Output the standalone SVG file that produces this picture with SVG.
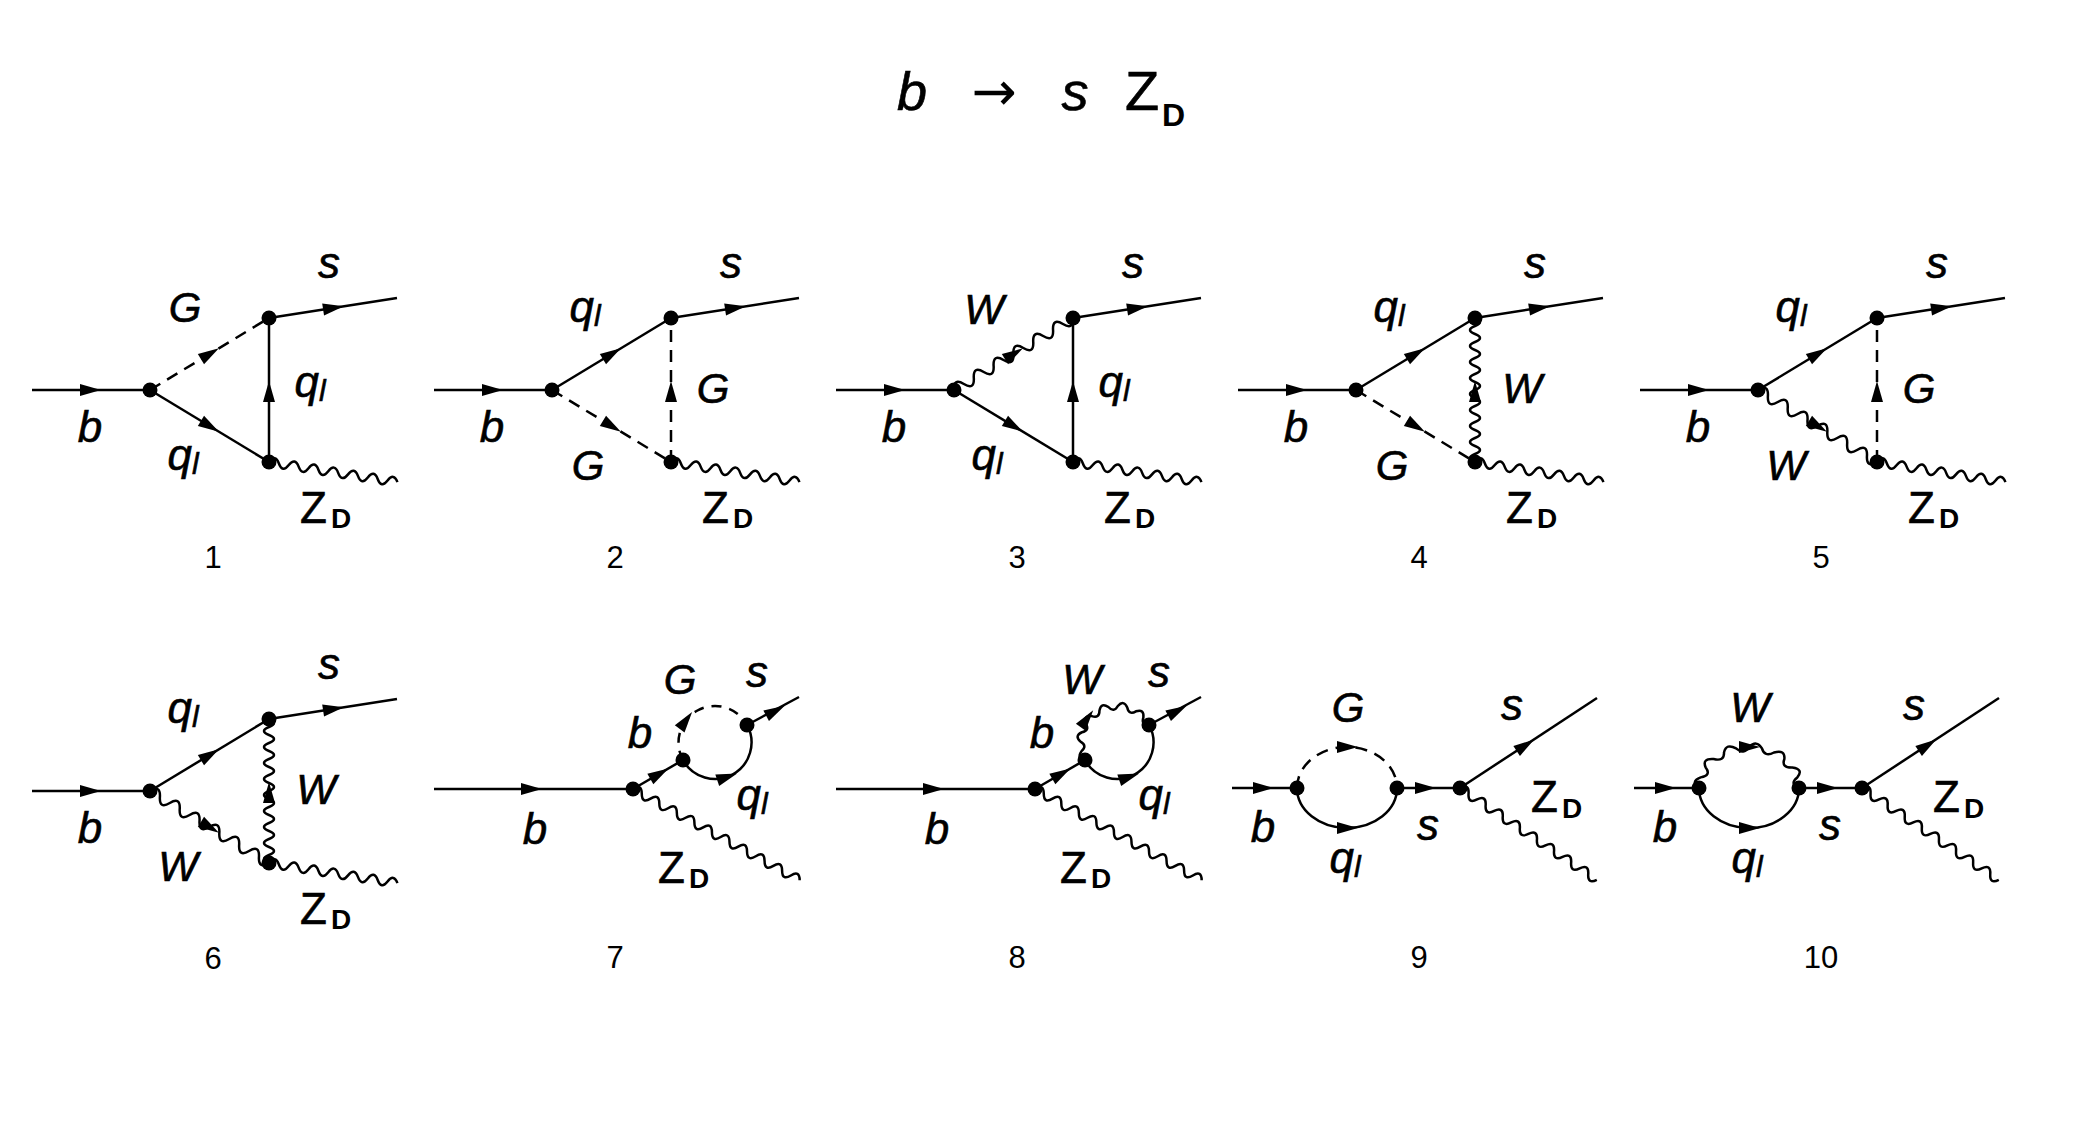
<svg xmlns="http://www.w3.org/2000/svg" xmlns:xlink="http://www.w3.org/1999/xlink" width="2080" height="1122" viewBox="0 0 2080 1122">
<style>
.l{stroke:#000;stroke-width:2.5;fill:none}
.d{stroke-dasharray:12 8}
.v{fill:#000}
.t{font-family:"Liberation Sans",Arial,sans-serif;font-style:italic;font-size:44px;text-anchor:middle;fill:#000;stroke:#000;stroke-width:0.6}
.g{font-size:42px}
.sub{font-size:30px}
.z{font-family:"Liberation Sans",Arial,sans-serif;font-size:44px;fill:#000;stroke:#000;stroke-width:0.6}
.zd{font-family:"Liberation Sans",Arial,sans-serif;font-size:28px;font-weight:bold;fill:#000}
.n{font-family:"Liberation Sans",Arial,sans-serif;font-size:31px;text-anchor:middle;fill:#000}
</style>
<defs>
<path id="ah" d="M11,0 L-10,-6 L-10,6 Z" fill="#000"/>
<path id="wz" class="l" d="M0,0 q5,-9 10,0 t10,0 t10,0 t10,0 t10,0 t10,0 t10,0 t10,0 t10,0 t10,0 t10,0 t10,0 t10,0"/>
<path id="wv" class="l" d="M0,0 q4,-10 8,0 t8,0 t8,0 t8,0 t8,0 t8,0 t8,0 t8,0 t8,0 t8,0 t8,0 t8,0 t8,0 t8,0 t8,0 t8,0 t8,0 t8,0"/>
<path id="wd" class="l" d="M0,0 q5.79,-11 11.58,0 t11.58,0 t11.58,0 t11.58,0 t11.58,0 t11.58,0 t11.58,0 t11.58,0 t11.58,0 t11.58,0 t11.58,0 t11.58,0"/>
<path id="wz2" class="l" d="M0,0 q5,-9 10,0 t10,0 t10,0 t10,0 t10,0 t10,0 t10,0 t10,0 t10,0 t10,0 t10,0 t10,0 t10,0 t10,0 t10,0 t10,0 t10,0 t10,0 t10,0"/>
<path id="wz3" class="l" d="M0,0 q5.15,-9 10.3,0 t10.3,0 t10.3,0 t10.3,0 t10.3,0 t10.3,0 t10.3,0 t10.3,0 t10.3,0 t10.3,0 t10.3,0 t10.3,0 t10.3,0 t10.3,0 t10.3,0 t10.3,0"/>
<path id="ws" class="l" vector-effect="non-scaling-stroke" d="M-36.5,0 Q-43.13,-5.68 -35.26,-9.45 Q-27.26,-11.29 -31.61,-18.25 Q-34.51,-26.48 -25.81,-25.81 Q-17.96,-23.41 -18.25,-31.61 Q-16.65,-40.19 -9.45,-35.26 Q-3.85,-29.25 0,-36.5 Q5.68,-43.13 9.45,-35.26 Q11.29,-27.26 18.25,-31.61 Q26.48,-34.51 25.81,-25.81 Q23.41,-17.96 31.61,-18.25 Q40.19,-16.65 35.26,-9.45 Q29.25,-3.85 36.5,0"/>
</defs>
<rect width="2080" height="1122" fill="#fff"/>
<g id="title">
<text class="t" x="912" y="110" style="font-size:54px">b</text>
<text x="994" y="110" style="font-family:'DejaVu Sans',sans-serif;font-size:54px;text-anchor:middle;fill:#000">→</text>
<text class="t" x="1075" y="110" style="font-size:54px">s</text>
<text class="z" x="1125" y="110" style="font-size:56px">Z</text>
<text class="zd" x="1162" y="126" style="font-size:32px">D</text>
</g>

<!-- Diagram 1 -->
<g id="d1">
<g id="d1-conn">
<line class="l" x1="32" y1="390" x2="150" y2="390"/><use href="#ah" transform="translate(90,390)"/>
<line class="l d" x1="150" y1="390" x2="269" y2="318"/><use href="#ah" transform="translate(209.5,354) rotate(-31.2)"/>
<line class="l" x1="150" y1="390" x2="269" y2="462"/><use href="#ah" transform="translate(209.5,426) rotate(31.2)"/>
<line class="l" x1="269" y1="462" x2="269" y2="318"/><use href="#ah" transform="translate(269,392) rotate(-90)"/>
<line class="l" x1="269" y1="318" x2="397" y2="298"/><use href="#ah" transform="translate(333,308) rotate(-8.9)"/>
<use href="#wz" transform="translate(269,462) rotate(8.9)"/>
</g>
<circle class="v" cx="150" cy="390" r="7.5"/><circle class="v" cx="269" cy="318" r="7.5"/><circle class="v" cx="269" cy="462" r="7.5"/>
<text class="t g" x="185" y="322">G</text>
<text class="t" x="90" y="442">b</text>
<text class="t" x="183" y="470">q<tspan class="sub" dy="4">l</tspan></text>
<text class="t" x="329" y="278">s</text>
<text class="t" x="310" y="397">q<tspan class="sub" dy="4">l</tspan></text>
<text class="z" x="300" y="523">Z</text><text class="zd" x="331" y="528">D</text>
<text class="n" x="213" y="568">1</text>
</g>

<!-- Diagram 2 -->
<g id="d2" transform="translate(402,0)">
<g id="d2-conn">
<line class="l" x1="32" y1="390" x2="150" y2="390"/><use href="#ah" transform="translate(90,390)"/>
<line class="l" x1="150" y1="390" x2="269" y2="318"/><use href="#ah" transform="translate(209.5,354) rotate(-31.2)"/>
<line class="l d" x1="150" y1="390" x2="269" y2="462"/><use href="#ah" transform="translate(209.5,426) rotate(31.2)"/>
<line class="l d" x1="269" y1="462" x2="269" y2="318"/><use href="#ah" transform="translate(269,392) rotate(-90)"/>
<line class="l" x1="269" y1="318" x2="397" y2="298"/><use href="#ah" transform="translate(333,308) rotate(-8.9)"/>
<use href="#wz" transform="translate(269,462) rotate(8.9)"/>
</g>
<circle class="v" cx="150" cy="390" r="7.5"/><circle class="v" cx="269" cy="318" r="7.5"/><circle class="v" cx="269" cy="462" r="7.5"/>
<text class="t" x="183" y="322">q<tspan class="sub" dy="4">l</tspan></text>
<text class="t" x="90" y="442">b</text>
<text class="t g" x="186" y="480">G</text>
<text class="t" x="329" y="278">s</text>
<text class="t g" x="311" y="403">G</text>
<text class="z" x="300" y="523">Z</text><text class="zd" x="331" y="528">D</text>
<text class="n" x="213" y="568">2</text>
</g>

<!-- Diagram 3 -->
<g id="d3" transform="translate(804,0)">
<g id="d3-conn">
<line class="l" x1="32" y1="390" x2="150" y2="390"/><use href="#ah" transform="translate(90,390)"/>
<use href="#wd" transform="translate(150,390) rotate(-31.2)"/><use href="#ah" transform="translate(209.5,354) rotate(-31.2)"/>
<line class="l" x1="150" y1="390" x2="269" y2="462"/><use href="#ah" transform="translate(209.5,426) rotate(31.2)"/>
<line class="l" x1="269" y1="462" x2="269" y2="318"/><use href="#ah" transform="translate(269,392) rotate(-90)"/>
<line class="l" x1="269" y1="318" x2="397" y2="298"/><use href="#ah" transform="translate(333,308) rotate(-8.9)"/>
<use href="#wz" transform="translate(269,462) rotate(8.9)"/>
</g>
<circle class="v" cx="150" cy="390" r="7.5"/><circle class="v" cx="269" cy="318" r="7.5"/><circle class="v" cx="269" cy="462" r="7.5"/>
<text class="t g" x="180" y="324">W</text>
<text class="t" x="90" y="442">b</text>
<text class="t" x="183" y="470">q<tspan class="sub" dy="4">l</tspan></text>
<text class="t" x="329" y="278">s</text>
<text class="t" x="310" y="397">q<tspan class="sub" dy="4">l</tspan></text>
<text class="z" x="300" y="523">Z</text><text class="zd" x="331" y="528">D</text>
<text class="n" x="213" y="568">3</text>
</g>

<!-- Diagram 4 -->
<g id="d4" transform="translate(1206,0)">
<g id="d4-conn">
<line class="l" x1="32" y1="390" x2="150" y2="390"/><use href="#ah" transform="translate(90,390)"/>
<line class="l" x1="150" y1="390" x2="269" y2="318"/><use href="#ah" transform="translate(209.5,354) rotate(-31.2)"/>
<line class="l d" x1="150" y1="390" x2="269" y2="462"/><use href="#ah" transform="translate(209.5,426) rotate(31.2)"/>
<use href="#wv" transform="translate(269,462) rotate(-90)"/><use href="#ah" transform="translate(269,392) rotate(-90)"/>
<line class="l" x1="269" y1="318" x2="397" y2="298"/><use href="#ah" transform="translate(333,308) rotate(-8.9)"/>
<use href="#wz" transform="translate(269,462) rotate(8.9)"/>
</g>
<circle class="v" cx="150" cy="390" r="7.5"/><circle class="v" cx="269" cy="318" r="7.5"/><circle class="v" cx="269" cy="462" r="7.5"/>
<text class="t" x="183" y="322">q<tspan class="sub" dy="4">l</tspan></text>
<text class="t" x="90" y="442">b</text>
<text class="t g" x="186" y="480">G</text>
<text class="t" x="329" y="278">s</text>
<text class="t g" x="316" y="403">W</text>
<text class="z" x="300" y="523">Z</text><text class="zd" x="331" y="528">D</text>
<text class="n" x="213" y="568">4</text>
</g>

<!-- Diagram 5 -->
<g id="d5" transform="translate(1608,0)">
<g id="d5-conn">
<line class="l" x1="32" y1="390" x2="150" y2="390"/><use href="#ah" transform="translate(90,390)"/>
<line class="l" x1="150" y1="390" x2="269" y2="318"/><use href="#ah" transform="translate(209.5,354) rotate(-31.2)"/>
<use href="#wd" transform="translate(150,390) rotate(31.2)"/><use href="#ah" transform="translate(209.5,426) rotate(31.2)"/>
<line class="l d" x1="269" y1="462" x2="269" y2="318"/><use href="#ah" transform="translate(269,392) rotate(-90)"/>
<line class="l" x1="269" y1="318" x2="397" y2="298"/><use href="#ah" transform="translate(333,308) rotate(-8.9)"/>
<use href="#wz" transform="translate(269,462) rotate(8.9)"/>
</g>
<circle class="v" cx="150" cy="390" r="7.5"/><circle class="v" cx="269" cy="318" r="7.5"/><circle class="v" cx="269" cy="462" r="7.5"/>
<text class="t" x="183" y="322">q<tspan class="sub" dy="4">l</tspan></text>
<text class="t" x="90" y="442">b</text>
<text class="t g" x="178" y="480">W</text>
<text class="t" x="329" y="278">s</text>
<text class="t g" x="311" y="403">G</text>
<text class="z" x="300" y="523">Z</text><text class="zd" x="331" y="528">D</text>
<text class="n" x="213" y="568">5</text>
</g>

<!-- Diagram 6 -->
<g id="d6" transform="translate(0,401)">
<g id="d6-conn">
<line class="l" x1="32" y1="390" x2="150" y2="390"/><use href="#ah" transform="translate(90,390)"/>
<line class="l" x1="150" y1="390" x2="269" y2="318"/><use href="#ah" transform="translate(209.5,354) rotate(-31.2)"/>
<use href="#wd" transform="translate(150,390) rotate(31.2)"/><use href="#ah" transform="translate(209.5,426) rotate(31.2)"/>
<use href="#wv" transform="translate(269,462) rotate(-90)"/><use href="#ah" transform="translate(269,392) rotate(-90)"/>
<line class="l" x1="269" y1="318" x2="397" y2="298"/><use href="#ah" transform="translate(333,308) rotate(-8.9)"/>
<use href="#wz" transform="translate(269,462) rotate(8.9)"/>
</g>
<circle class="v" cx="150" cy="390" r="7.5"/><circle class="v" cx="269" cy="318" r="7.5"/><circle class="v" cx="269" cy="462" r="7.5"/>
<text class="t" x="183" y="322">q<tspan class="sub" dy="4">l</tspan></text>
<text class="t" x="90" y="442">b</text>
<text class="t g" x="178" y="480">W</text>
<text class="t" x="329" y="278">s</text>
<text class="t g" x="316" y="403">W</text>
<text class="z" x="300" y="523">Z</text><text class="zd" x="331" y="528">D</text>
<text class="n" x="213" y="568">6</text>
</g>

<!-- Diagram 7 -->
<g id="d7" transform="translate(402,400)">
<g id="d7-conn">
<line class="l" x1="32" y1="389" x2="231" y2="389"/><use href="#ah" transform="translate(129,389)"/>
<line class="l" x1="231" y1="389" x2="281" y2="360"/><use href="#ah" transform="translate(257,374) rotate(-30.1)"/>
<line class="l" x1="345" y1="325" x2="397" y2="297"/><use href="#ah" transform="translate(373,311) rotate(-27.9)"/>
<g transform="translate(313,342.5) rotate(-28.7)">
<path class="l d" d="M-36.5,0 A36.5,36.5 0 0 1 36.5,0" style="stroke-dasharray:10 8"/>
<path class="l" d="M-36.5,0 A36.5,36.5 0 0 0 36.5,0"/>
<use href="#ah" transform="translate(-15.4,-33.1) rotate(-25)"/>
<use href="#ah" transform="translate(-6.3,35.9) rotate(10)"/>
</g>
<use href="#wz2" transform="translate(231,389) rotate(28.7)"/>
</g>
<circle class="v" cx="231" cy="389" r="7.5"/><circle class="v" cx="281" cy="360" r="7.5"/><circle class="v" cx="345" cy="325" r="7.5"/>
<text class="t g" x="278" y="294">G</text>
<text class="t" x="355" y="287">s</text>
<text class="t" x="238" y="348">b</text>
<text class="t" x="133" y="444">b</text>
<text class="t" x="350" y="410">q<tspan class="sub" dy="4">l</tspan></text>
<text class="z" x="256" y="483">Z</text><text class="zd" x="287" y="488">D</text>
<text class="n" x="213" y="568">7</text>
</g>

<!-- Diagram 8 -->
<g id="d8" transform="translate(804,400)">
<g id="d8-conn">
<line class="l" x1="32" y1="389" x2="231" y2="389"/><use href="#ah" transform="translate(129,389)"/>
<line class="l" x1="231" y1="389" x2="281" y2="360"/><use href="#ah" transform="translate(257,374) rotate(-30.1)"/>
<line class="l" x1="345" y1="325" x2="397" y2="297"/><use href="#ah" transform="translate(373,311) rotate(-27.9)"/>
<g transform="translate(313,342.5) rotate(-28.7)">
<use href="#ws"/>
<path class="l" d="M-36.5,0 A36.5,36.5 0 0 0 36.5,0"/>
<use href="#ah" transform="translate(-15.4,-35) rotate(-25)"/>
<use href="#ah" transform="translate(-6.3,35.9) rotate(10)"/>
</g>
<use href="#wz2" transform="translate(231,389) rotate(28.7)"/>
</g>
<circle class="v" cx="231" cy="389" r="7.5"/><circle class="v" cx="281" cy="360" r="7.5"/><circle class="v" cx="345" cy="325" r="7.5"/>
<text class="t g" x="278" y="294">W</text>
<text class="t" x="355" y="287">s</text>
<text class="t" x="238" y="348">b</text>
<text class="t" x="133" y="444">b</text>
<text class="t" x="350" y="410">q<tspan class="sub" dy="4">l</tspan></text>
<text class="z" x="256" y="483">Z</text><text class="zd" x="287" y="488">D</text>
<text class="n" x="213" y="568">8</text>
</g>

<!-- Diagram 9 -->
<g id="d9" transform="translate(1206,400)">
<g id="d9-conn">
<line class="l" x1="26" y1="388" x2="91" y2="388"/><use href="#ah" transform="translate(57,388)"/>
<line class="l" x1="191" y1="388" x2="254" y2="388"/><use href="#ah" transform="translate(219,388)"/>
<path class="l d" d="M91,388 A50,41 0 0 1 191,388"/><use href="#ah" transform="translate(141,347)"/>
<path class="l" d="M91,388 A50,40 0 0 0 191,388"/><use href="#ah" transform="translate(141,428)"/>
<line class="l" x1="254" y1="388" x2="391" y2="298"/><use href="#ah" transform="translate(319,345.5) rotate(-33.3)"/>
<use href="#wz3" transform="translate(254,388) rotate(33.9)"/>
</g>
<circle class="v" cx="91" cy="388" r="7.5"/><circle class="v" cx="191" cy="388" r="7.5"/><circle class="v" cx="254" cy="388" r="7.5"/>
<text class="t g" x="142" y="322">G</text>
<text class="t" x="306" y="320">s</text>
<text class="t" x="57" y="442">b</text>
<text class="t" x="139" y="473">q<tspan class="sub" dy="4">l</tspan></text>
<text class="t" x="222" y="440">s</text>
<text class="z" x="325" y="412">Z</text><text class="zd" x="356" y="418">D</text>
<text class="n" x="213" y="568">9</text>
</g>

<!-- Diagram 10 -->
<g id="d10" transform="translate(1608,400)">
<g id="d10-conn">
<line class="l" x1="26" y1="388" x2="91" y2="388"/><use href="#ah" transform="translate(57,388)"/>
<line class="l" x1="191" y1="388" x2="254" y2="388"/><use href="#ah" transform="translate(219,388)"/>
<use href="#ws" transform="translate(141,388) scale(1.37,1.123)"/><use href="#ah" transform="translate(141,347)"/>
<path class="l" d="M91,388 A50,40 0 0 0 191,388"/><use href="#ah" transform="translate(141,428)"/>
<line class="l" x1="254" y1="388" x2="391" y2="298"/><use href="#ah" transform="translate(319,345.5) rotate(-33.3)"/>
<use href="#wz3" transform="translate(254,388) rotate(33.9)"/>
</g>
<circle class="v" cx="91" cy="388" r="7.5"/><circle class="v" cx="191" cy="388" r="7.5"/><circle class="v" cx="254" cy="388" r="7.5"/>
<text class="t g" x="142" y="322">W</text>
<text class="t" x="306" y="320">s</text>
<text class="t" x="57" y="442">b</text>
<text class="t" x="139" y="473">q<tspan class="sub" dy="4">l</tspan></text>
<text class="t" x="222" y="440">s</text>
<text class="z" x="325" y="412">Z</text><text class="zd" x="356" y="418">D</text>
<text class="n" x="213" y="568">10</text>
</g>
</svg>
